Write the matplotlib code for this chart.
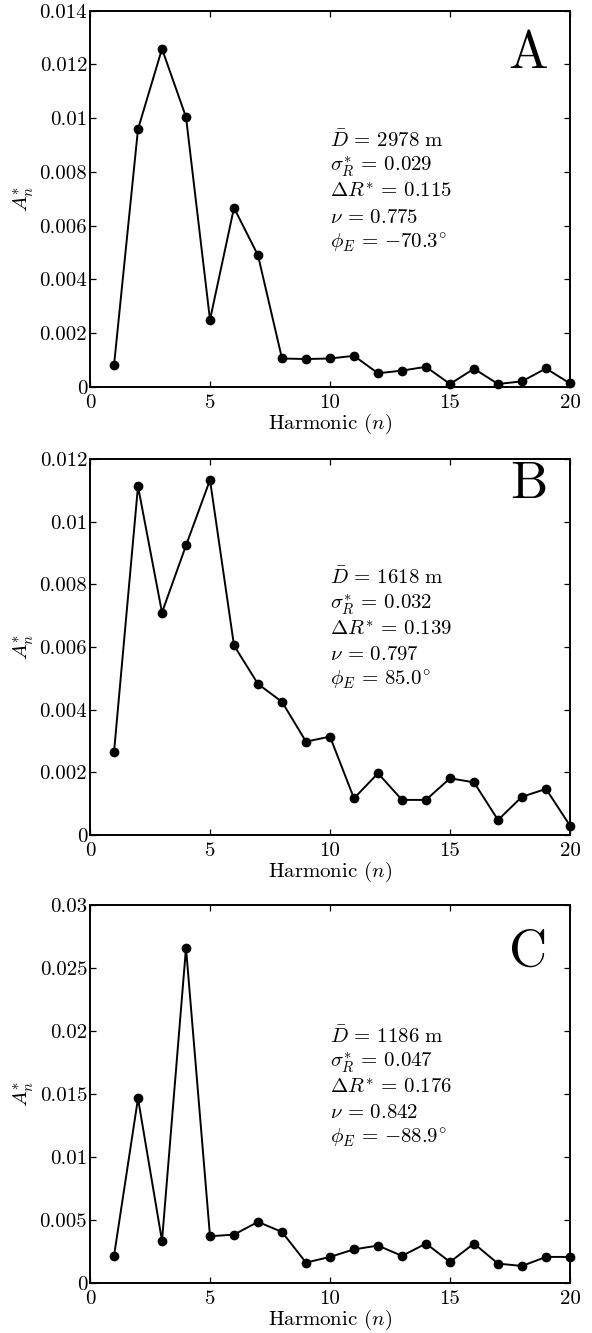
import matplotlib
matplotlib.use("Agg")
import matplotlib.pyplot as plt
import numpy as np

plt.rcParams["font.family"] = "serif"
plt.rcParams["font.serif"] = ["cmr10"]
plt.rcParams["mathtext.fontset"] = "cm"
plt.rcParams["axes.formatter.use_mathtext"] = True

# Harmonic numbers
harmonics = list(range(1, 21))

# Normalised harmonic amplitudes A_n* for the three cases
amp_A = [0.00079, 0.00959, 0.01258, 0.01004, 0.00249, 0.00666, 0.00489, 0.00105,
         0.00103, 0.00105, 0.00115, 0.00050, 0.00060, 0.00074, 0.00010, 0.00067,
         0.00010, 0.00020, 0.00068, 0.00012]
amp_B = [0.00264, 0.01113, 0.00710, 0.00924, 0.01133, 0.00605, 0.00482, 0.00425,
         0.00298, 0.00314, 0.00117, 0.00197, 0.00112, 0.00112, 0.00181, 0.00168,
         0.00048, 0.00122, 0.00147, 0.00030]
amp_C = [0.00215, 0.01465, 0.00334, 0.02659, 0.00371, 0.00384, 0.00485, 0.00405,
         0.00162, 0.00207, 0.00267, 0.00297, 0.00215, 0.00313, 0.00167, 0.00313,
         0.00154, 0.00135, 0.00207, 0.00207]

panel_letters = ["A", "B", "C"]

# Y tick values and their labels for each panel
yticks_A = [0, 0.002, 0.004, 0.006, 0.008, 0.010, 0.012, 0.014]
ylabels_A = ["0", "0.002", "0.004", "0.006", "0.008", "0.01", "0.012", "0.014"]
yticks_B = [0, 0.002, 0.004, 0.006, 0.008, 0.010, 0.012]
ylabels_B = ["0", "0.002", "0.004", "0.006", "0.008", "0.01", "0.012"]
yticks_C = [0, 0.005, 0.010, 0.015, 0.020, 0.025, 0.030]
ylabels_C = ["0", "0.005", "0.01", "0.015", "0.02", "0.025", "0.03"]

xticks = [0, 5, 10, 15, 20]
xlabels = ["0", "5", "10", "15", "20"]

# Summary parameters of each case
mean_depth = ["2978", "1618", "1186"]
sigma_R = ["0.029", "0.032", "0.047"]
delta_R = ["0.115", "0.139", "0.176"]
nu = ["0.775", "0.797", "0.842"]
phi_E = ["-70.3", "85.0", "-88.9"]

amps = [amp_A, amp_B, amp_C]
yticks_all = [yticks_A, yticks_B, yticks_C]
ylabels_all = [ylabels_A, ylabels_B, ylabels_C]

W, H = 592, 1333
fig = plt.figure(figsize=(W / 100, H / 100), dpi=100)

# axes boxes in pixels: (top, bottom)
boxes = [(10.7, 386.7), (459.0, 835.0), (905.0, 1283.0)]
left_px, right_px = 90, 570
letter_base = [0.848, 0.895, 0.839]
text_base = [0.638, 0.667, 0.636]

fs = 15
EQ = r"\,=\,"
for i in range(3):
    top, bot = boxes[i]
    ax = fig.add_axes([left_px / W, 1 - bot / H, (right_px - left_px) / W, (bot - top) / H])
    ax.plot(harmonics, amps[i], color="black", lw=1.4, marker="o", ms=6, clip_on=False, zorder=3)
    ax.set_xlim(0, 20)
    ax.set_ylim(yticks_all[i][0], yticks_all[i][-1])
    ax.set_xticks(xticks)
    ax.set_xticklabels(xlabels)
    ax.set_yticks(yticks_all[i])
    ax.set_yticklabels(ylabels_all[i])
    ax.tick_params(direction="in", length=4, width=0.9, top=True, right=True,
                   labelsize=fs, pad=2)
    ax.tick_params(axis="x", pad=5)
    for s in ax.spines.values():
        s.set_linewidth(1.4)
    ax.set_xlabel(r"Harmonic ($n$)", fontsize=fs, labelpad=0)
    ax.set_ylabel(r"$A_n^{*}$", fontsize=fs, va="center")
    ax.yaxis.set_label_coords(-0.137, 0.5)

    ax.text(0.953, letter_base[i], panel_letters[i], transform=ax.transAxes,
            fontsize=38, ha="right", va="baseline")

    lines = [
        r"$\bar{D}" + EQ + mean_depth[i] + r"\ \mathrm{m}$",
        r"$\sigma_R^{*}" + EQ + sigma_R[i] + "$",
        r"$\Delta R^{*}" + EQ + delta_R[i] + "$",
        r"$\nu" + EQ + nu[i] + "$",
        r"$\phi_E" + EQ + "{" + phi_E[i] + r"}^{\circ}$",
    ]
    step = 25.3 / (bot - top)
    for k, s in enumerate(lines):
        ax.text(0.5, text_base[i] - k * step, s, transform=ax.transAxes,
                fontsize=fs, ha="left", va="baseline")

fig.savefig("out.png", dpi=100)
